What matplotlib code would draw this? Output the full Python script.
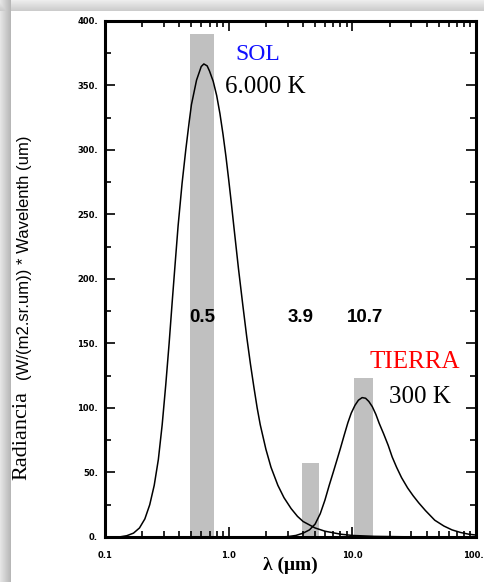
import numpy as np
import matplotlib
matplotlib.use("Agg")
import matplotlib.pyplot as plt
from matplotlib.ticker import FixedLocator, FixedFormatter, LogLocator, NullFormatter, MultipleLocator

# ---- data ----
sun_wl = [0.13, 0.15, 0.17, 0.19, 0.21, 0.23, 0.25, 0.27, 0.29, 0.31,
          0.33, 0.35, 0.37, 0.39, 0.42, 0.45, 0.48, 0.50, 0.55, 0.60,
          0.63, 0.67, 0.70, 0.75, 0.80, 0.85, 0.90, 0.95, 1.00, 1.05, 1.10,
          1.20, 1.30, 1.40, 1.50, 1.60, 1.70, 1.80, 2.00, 2.20, 2.50,
          2.80, 3.20, 3.60, 4.00, 5.00, 6.00, 8.00, 10.0, 15.0, 25.0, 40.0]
sun_rad = [0.0, 1.0, 3.0, 7.0, 14.0, 25.0, 40.0, 60.0, 87.0, 118.0,
           150.0, 183.0, 213.0, 241.0, 274.0, 300.0, 322.0, 335.0, 354.0, 364.5,
           366.5, 365.0, 361.0, 353.0, 342.0, 328.0, 312.0, 295.0, 277.0, 259.0, 241.0,
           208.0, 180.0, 155.0, 134.0, 116.0, 100.0, 87.0, 68.0, 54.0, 40.0,
           30.5, 22.0, 16.0, 12.0, 7.0, 4.5, 2.2, 1.2, 0.5, 0.2, 0.0]

earth_wl = [2.6, 3.0, 3.5, 4.0, 4.5, 5.0, 5.5, 6.0, 6.5, 7.0,
            7.5, 8.0, 8.6, 9.2, 9.8, 10.5, 11.2, 12.0, 12.8, 13.6,
            14.5, 15.5, 16.5, 17.9, 19.5, 21.0, 22.8, 25.0, 28.0, 31.0,
            34.4, 39.0, 46.4, 55.0, 64.0, 75.0, 87.0, 100.0]
earth_rad = [0.0, 0.3, 1.2, 3.0, 5.5, 10.0, 18.0, 28.5, 40.0, 50.0,
             59.5, 68.5, 79.0, 88.5, 96.0, 102.0, 106.0, 108.0, 107.5, 105.0,
             101.0, 95.0, 88.0, 80.0, 71.0, 62.0, 54.0, 46.0, 38.0, 32.0,
             26.5, 20.5, 13.0, 8.5, 5.5, 3.5, 2.2, 1.5]

band_left = [0.49, 3.9, 10.3]
band_right = [0.755, 5.42, 14.6]
band_height = [390, 57.5, 123]
band_labels = ["0.5", "3.9", "10.7"]

xticks = [0.1, 1.0, 10.0, 100.0]
xticklabels = ["0.1", "1.0", "10.0", "100.0"]
yticks = [0, 50, 100, 150, 200, 250, 300, 350, 400]
yticklabels = ["0.", "50.", "100.", "150.", "200.", "250.", "300.", "350.", "400."]

W, H = 485, 582
fig = plt.figure(figsize=(W / 100, H / 100), dpi=100)

def px(x, y):
    return x / W, 1 - y / H

# background with shadow border
bg = np.ones((H, W, 3))
for y in range(11):
    bg[y, :, :] = np.minimum(bg[y, :, :], 0.93 - 0.13 * y / 10)
for x in range(11):
    bg[:, x, :] = np.minimum(bg[:, x, :], 0.90 - 0.18 * x / 10)
bax = fig.add_axes([0, 0, 1, 1], zorder=-10)
bax.imshow(bg, aspect="auto", interpolation="nearest")
bax.axis("off")

ax = fig.add_axes([105 / W, 1 - 537 / H, (476 - 105) / W, (537 - 20.7) / H])
ax.set_xscale("log")
ax.set_xlim(0.1, 100)
ax.set_ylim(0, 400)

for l, r, h in zip(band_left, band_right, band_height):
    ax.fill_between([l, r], [h, h], 0, color="#c0c0c0", lw=0, zorder=1)

ax.plot(sun_wl, sun_rad, color="black", lw=1.1, zorder=3)
ax.plot(earth_wl, earth_rad, color="black", lw=1.1, zorder=3)

for s in ax.spines.values():
    s.set_linewidth(2.2)

ax.xaxis.set_major_locator(FixedLocator(xticks))
ax.xaxis.set_major_formatter(FixedFormatter(xticklabels))
ax.xaxis.set_minor_locator(LogLocator(base=10, subs=np.arange(2, 10)))
ax.xaxis.set_minor_formatter(NullFormatter())
ax.yaxis.set_major_locator(FixedLocator(yticks))
ax.yaxis.set_major_formatter(FixedFormatter(yticklabels))
ax.yaxis.set_minor_locator(MultipleLocator(25))

ax.tick_params(which="both", direction="in", top=True, right=True, width=1.2)
ax.tick_params(which="major", length=7)
ax.tick_params(which="minor", length=4)
ax.tick_params(axis="x", which="major", pad=10, labelsize=6)
ax.tick_params(axis="y", which="major", pad=5, labelsize=6)
for t in ax.get_xticklabels() + ax.get_yticklabels():
    t.set_fontweight("bold")

serif = ["Liberation Serif", "DejaVu Serif"]
sans = ["Liberation Sans", "DejaVu Sans"]

fig.text(*px(258, 55), "SOL", color="#1010ff", family=serif, fontsize=17, ha="center", va="center")
fig.text(*px(265, 87), "6.000 K", color="black", family=serif, fontsize=18, ha="center", va="center")
fig.text(*px(415, 362), "TIERRA", color="#ff0000", family=serif, fontsize=18, ha="center", va="center")
fig.text(*px(420, 397), "300 K", color="black", family=serif, fontsize=18, ha="center", va="center")

label_px = [202, 301, 365]
for lab, xp in zip(band_labels, label_px):
    fig.text(*px(xp, 317), lab, color="black", family=sans, fontweight="bold",
             fontsize=13.5, ha="center", va="center")

fig.text(*px(290, 565), "λ (μm)", family=serif, fontweight="bold", fontsize=14,
         ha="center", va="center")
fig.text(*px(22, 435), "Radiancia", family=serif, fontsize=16, rotation=90,
         ha="center", va="center")
fig.text(*px(25, 258), "(W/(m2.sr.um)) * Wavelenth (um)", family=sans, fontsize=12,
         rotation=90, ha="center", va="center")

fig.savefig("out.png", dpi=100)
